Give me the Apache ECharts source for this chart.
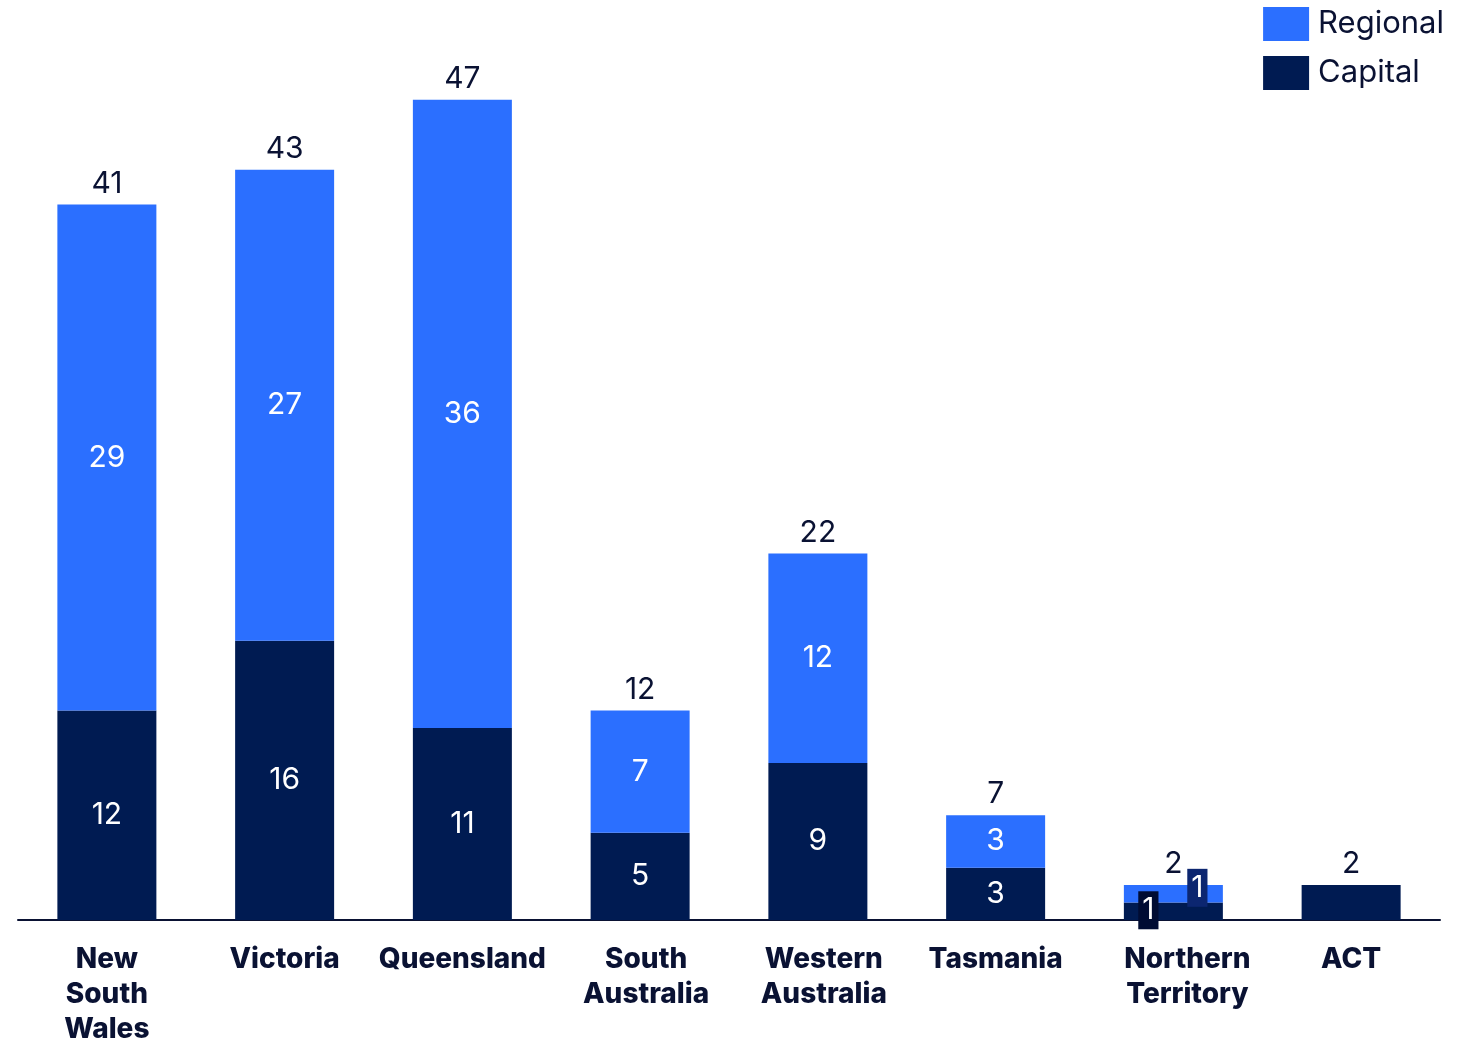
<!DOCTYPE html>
<html>
<head>
<meta charset="utf-8">
<script src="https://cdn.jsdelivr.net/npm/echarts@6/dist/echarts.min.js"></script>
<style>
  html, body { margin: 0; padding: 0; background: #fff; }
  #chart { width: 1466px; height: 1041px; }
</style>
</head>
<body>
<div id="chart"></div>
<script>
const categories = ['New\nSouth\nWales', 'Victoria', 'Queensland', 'South\nAustralia', 'Western\nAustralia', 'Tasmania', 'Northern\nTerritory', 'ACT']
const capital = [12, 16, 11, 5, 9, 3, 1, 2]
const regional = [29, 27, 36, 7, 12, 3, 1, 0]
// totals as printed above the bars (source rounds separately)
const totalLabels = [41, 43, 47, 12, 22, 7, 2, 2]

const DARK = '#001b52'
const BLUE = '#2b6fff'
const TEXT = '#0a1233'
const FONT = 'Inter, "Noto Sans", sans-serif'

// some two-line category labels sit a little right of the bar centre
const labelShift = [0, 0, 0, 6, 6, 0, 14, 0]

const chart = echarts.init(document.getElementById('chart'))

// NT has tiny segments: labels get a small box and are pushed aside
const capitalData = capital.map((v, i) => {
  if (i === 6) {
    return {
      value: v,
      label: { backgroundColor: '#000c33', padding: [5, 4, 3, 4], offset: [-25, -1] }
    }
  }
  return v
})
const regionalData = regional.map((v, i) => {
  if (i === 6) {
    return {
      value: v,
      label: { backgroundColor: '#0c2670', padding: [5, 4, 3, 4], offset: [24, -6] }
    }
  }
  if (v === 0) return { value: v, label: { show: false } }
  return v
})

const option = {
  animation: false,
  textStyle: { fontFamily: FONT },
  legend: {
    orient: 'vertical',
    right: 17,
    top: 2,
    itemWidth: 46,
    itemHeight: 34,
    itemGap: 15,
    icon: 'rect',
    data: ['Regional', 'Capital'],
    textStyle: { fontSize: 31, color: TEXT, fontFamily: FONT, padding: [0, 0, 0, 4] }
  },
  grid: { left: 18, right: 26, top: 47.5, bottom: 121, outerBoundsMode: 'none' },
  xAxis: {
    type: 'category',
    data: categories.map((c, i) => ({
      value: c,
      textStyle: { padding: [0, 0, 0, labelShift[i] * 2] }
    })),
    axisLine: { lineStyle: { color: TEXT, width: 2 } },
    axisTick: { show: false },
    axisLabel: {
      interval: 0,
      margin: 22,
      fontSize: 28,
      fontWeight: 800,
      color: TEXT,
      lineHeight: 35,
      fontFamily: FONT
    }
  },
  yAxis: {
    type: 'value',
    min: 0,
    max: 50,
    show: false,
    splitLine: { show: false }
  },
  series: [
    {
      name: 'Capital',
      type: 'bar',
      stack: 'total',
      barWidth: 99,
      data: capitalData,
      itemStyle: { color: DARK },
      label: {
        show: true,
        position: 'inside',
        color: '#fff',
        fontSize: 30,
        lineHeight: 30,
        fontFamily: FONT,
        formatter: p => (p.dataIndex === 7 ? '' : p.value)
      }
    },
    {
      name: 'Regional',
      type: 'bar',
      stack: 'total',
      barWidth: 99,
      data: regionalData,
      itemStyle: { color: BLUE },
      label: {
        show: true,
        position: 'inside',
        color: '#fff',
        fontSize: 30,
        lineHeight: 30,
        fontFamily: FONT
      }
    },
    {
      // invisible bar over the stack, only carries the total label
      name: 'Total',
      type: 'bar',
      barWidth: 99,
      barGap: '-100%',
      data: capital.map((c, i) => c + regional[i]),
      itemStyle: { color: 'rgba(0,0,0,0)' },
      silent: true,
      z: 1,
      label: {
        show: true,
        position: 'top',
        distance: 6,
        color: TEXT,
        fontSize: 30,
        fontFamily: FONT,
        formatter: p => totalLabels[p.dataIndex]
      }
    }
  ]
}

chart.setOption(option)
</script>
</body>
</html>
